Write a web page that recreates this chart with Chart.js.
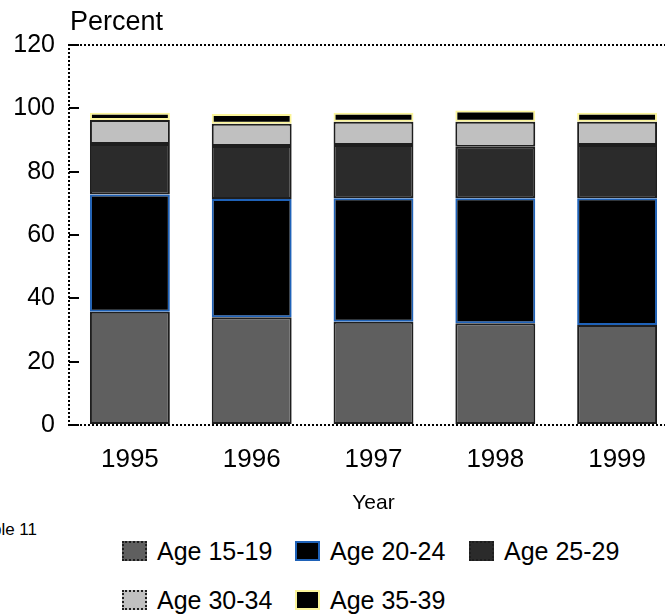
<!DOCTYPE html>
<html>
<head>
<meta charset="utf-8">
<script src="https://cdn.jsdelivr.net/npm/chart.js@4/dist/chart.umd.min.js"></script>
<style>
  html, body { margin: 0; padding: 0; background: #fff; overflow: hidden; }
  body { width: 665px; height: 615px; position: relative; font-family: "Liberation Sans", Arial, sans-serif; }
  #chart { position: absolute; left: 0; top: 0; }
  .lbl { position: absolute; white-space: nowrap; color: #000; }
  #yTitle { left: 70px; top: 8px; font-size: 27px; line-height: 27px; }
  #note { left: -26px; top: 520px; font-size: 17px; line-height: 19px; }
  .legend-item { position: absolute; font-size: 25px; line-height: 26px; white-space: nowrap; }
  .legend-item .box { position: absolute; left: 0; top: 3px; width: 21px; height: 16px; border: 2px solid #000; }
  .legend-item .txt { position: absolute; left: 35px; top: 0; }
</style>
</head>
<body>
<canvas id="chart" width="680" height="520"></canvas>
<div class="lbl" id="yTitle">Percent</div>
<div class="lbl" id="note">Table 11</div>
<div id="legend"></div>
<script>
// data (percent of births by mother's age)
const years = ['1995', '1996', '1997', '1998', '1999'];
const ageGroups = ['Age 15-19', 'Age 20-24', 'Age 25-29', 'Age 30-34', 'Age 35-39'];

const age15to19 = [35.8, 34.0, 32.6, 32.1, 31.6];
const age20to24 = [37.0, 37.4, 39.0, 39.5, 40.0];
const age25to29 = [15.9, 16.7, 16.8, 16.3, 16.8];
const age30to34 = [7.6, 7.0, 7.4, 7.9, 7.4];
const age35to39 = [2.3, 3.1, 2.8, 3.5, 2.8];

const yTicks = [0, 20, 40, 60, 80, 100, 120];

const fills = ['#5f5f5f', '#000000', '#2b2b2b', '#c0c0c0', '#000000'];
const edges = ['#1e1e1e', '#1f62b8', '#1e1e1e', '#1e1e1e', '#fbf59a'];

const series = [age15to19, age20to24, age25to29, age30to34, age35to39];

// dotted frame (left, top, bottom) round the plot
const frame = {
  id: 'frame',
  afterDraw(chart) {
    const {ctx, chartArea: a} = chart;
    ctx.save();
    ctx.strokeStyle = '#000';
    ctx.lineWidth = 2;
    ctx.setLineDash([2, 2]);
    ctx.beginPath();
    ctx.moveTo(a.right, a.top);
    ctx.lineTo(a.left, a.top);
    ctx.lineTo(a.left, a.bottom);
    ctx.lineTo(a.right, a.bottom);
    ctx.stroke();
    ctx.restore();
  }
};

const data = {
  labels: years,
  datasets: series.map((vals, i) => ({
    label: ageGroups[i],
    data: vals,
    backgroundColor: fills[i],
    borderColor: edges[i],
    borderWidth: 2,
    borderSkipped: false,
    categoryPercentage: 1,
    barPercentage: 0.656
  }))
};

const config = {
  type: 'bar',
  data: data,
  options: {
    responsive: false,
    animation: false,
    layout: { padding: { top: 45, left: 0, right: 2, bottom: 0 } },
    plugins: {
      legend: { display: false },
      tooltip: { enabled: false }
    },
    scales: {
      x: {
        stacked: true,
        grid: { display: false },
        border: { display: false },
        ticks: {
          color: '#000',
          padding: 11,
          font: { family: 'Liberation Sans', size: 26 }
        },
        title: {
          display: true,
          text: 'Year',
          color: '#000',
          padding: { top: 0, bottom: 4 },
          font: { family: 'Liberation Sans', size: 21 }
        },
        afterFit(scale) { scale.height = 95; }
      },
      y: {
        stacked: true,
        min: 0,
        max: 120,
        afterBuildTicks(scale) { scale.ticks = yTicks.map(v => ({ value: v })); },
        grid: {
          drawOnChartArea: false,
          drawTicks: true,
          tickLength: -10,
          color: '#000',
          lineWidth: 2
        },
        border: { display: false },
        ticks: {
          color: '#000',
          padding: 24,
          font: { family: 'Liberation Sans', size: 25 }
        },
        afterFit(scale) { scale.width = 69; }
      }
    }
  },
  plugins: [frame]
};

const myChart = new Chart(document.getElementById('chart'), config);

// legend, two rows like the original
const legendPos = [[122, 538], [295, 538], [469, 538], [122, 587], [295, 587]];
const legend = document.getElementById('legend');
ageGroups.forEach((name, i) => {
  const item = document.createElement('div');
  item.className = 'legend-item';
  item.style.left = legendPos[i][0] + 'px';
  item.style.top = legendPos[i][1] + 'px';
  const box = document.createElement('span');
  box.className = 'box';
  box.style.background = fills[i];
  box.style.borderColor = edges[i];
  if (edges[i] === '#1e1e1e') box.style.borderStyle = 'dotted';
  const txt = document.createElement('span');
  txt.className = 'txt';
  txt.textContent = name;
  item.appendChild(box);
  item.appendChild(txt);
  legend.appendChild(item);
});
</script>
</body>
</html>
